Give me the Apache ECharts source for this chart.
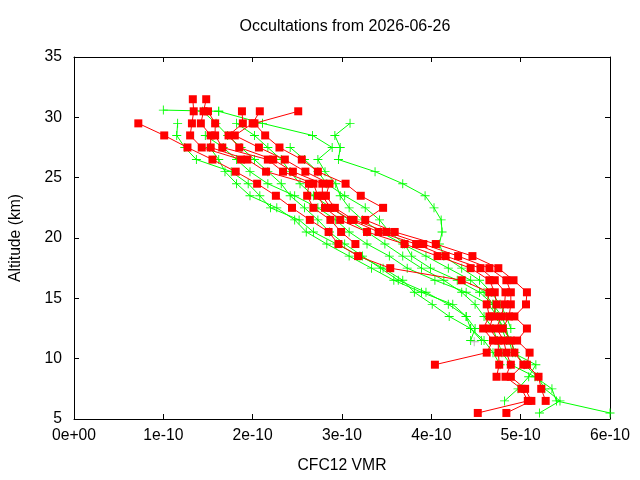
<!DOCTYPE html>
<html><head><meta charset="utf-8">
<script src="https://cdn.jsdelivr.net/npm/echarts@6/dist/echarts.min.js"></script>
<style>html,body{margin:0;padding:0;background:#fff}#c{width:640px;height:480px}</style>
</head><body><div id="c"></div>
<script>
// Tick labels
const xTickLabels = ['0e+00','1e-10','2e-10','3e-10','4e-10','5e-10','6e-10'];
const yTickLabels = ['5','10','15','20','25','30','35'];

// VMR values in units of 1e-10; each profile starts at its top altitude (km) and steps down 1 km
const redTops = [29.5, 31.5, 31.5, 30.5, 30.5, 30.5, 30.5];
const red1 = [0.72,1.01,1.27,1.55,1.81,2.05,2.26,2.44,2.64,2.85,2.96,3.18,3.54,4.34,4.65,4.62,4.65,4.58,4.69,4.62,4.04];
const red2 = [1.33,1.34,1.32,1.30,1.43,1.87];
const red3 = [1.48,1.45,1.42,1.53,1.53,1.94,2.15,2.63,2.61,2.68,2.87,2.99,3.15];
const red4 = [1.50,1.58,1.58,1.66,2.17,2.34,2.68,2.73,2.81,2.98,3.28,3.70,4.07,4.44,4.65,4.71,4.73,4.69,4.65,4.75,4.75,4.76,4.73];
const red5 = [1.88,1.89,1.73,1.85,2.23,2.45,2.78,2.78,2.87,3.10,3.41,3.83,4.16,4.55,4.71,4.83,4.82,4.78,4.73,4.81,4.84,4.89,4.83,5.01,5.08,4.52];
const red6 = [2.08,2.00,1.80,2.07,2.36,2.59,2.86,2.82,2.92,3.13,3.50,3.91,4.30,4.65,4.84,4.89,4.89,4.87,4.80,4.89,4.93,5.03,4.89,5.05,5.12,4.84];
const red7 = [2.51,2.02,2.14,2.30,2.55,2.73,3.04,3.21,3.46,3.26,3.59,4.05,4.46,4.75,4.92,5.07,5.06,4.93,5.07,4.96,5.10,5.07,5.20,5.23,5.28];

const greenTops = [29.5, 30.5, 29.5, 30.5, 29.5, 27.5, 27.5, 28.5];
const green1 = [1.16,1.15,1.24,1.37,1.76,1.95,2.08,2.20,2.52,2.68,2.94,3.20,3.46,3.68,3.81,4.01,4.20,4.44,4.59,4.69,4.77];
const green2 = [1.62,2.11,2.67,2.89,2.73,2.81,2.93,2.98,3.08,3.23,3.43,3.68,3.94,4.19,4.44,4.59,4.69,4.74,4.79,4.84];
const green2Head = [[1.00,30.6],[1.62,30.5]];
const green3 = [3.09,2.92,2.98,2.96,3.37,3.68,3.93,4.03,4.11,4.12,4.09,4.14,4.34,4.54,4.67,4.77,4.84,4.89];
const green4 = [1.44,1.59,1.72,1.87,2.02,2.17,2.32,2.42,2.58,2.73,2.86,3.03,3.23,3.43,3.63,3.94,4.19,4.39,4.49,4.44];
const green5 = [1.82,2.02,2.17,2.32,2.42,2.53,2.68,2.88,3.08,3.28,3.48,3.68,3.89,4.14,4.34,4.49,4.59,4.69,4.74,4.79,4.89,5.16,5.35,5.40,6.00];
const green6 = [2.42,2.58,2.73,2.83,3.03,3.26,3.42,3.53,3.70,3.78,3.99,4.29,4.54,4.69,4.79,4.84,4.87,4.91,5.17,5.09,4.97,4.82];
const green7 = [1.52,1.62,1.69,1.82,1.97,2.27,2.47,2.60,2.83,3.08,3.33,3.58,3.89,4.24,4.39,4.44,4.56];
const green8 = [1.47,1.67,1.82,1.97,2.17,2.47,2.73,2.93,3.08,3.28,3.53,3.73,4.04,4.39,4.64,4.74,4.81,4.89,4.94,5.04,5.19,5.27,5.44,5.21];

const grayPoints = [[4.48,11.4]];

const redProfiles = [red1,red2,red3,red4,red5,red6,red7];
const greenProfiles = [green1,green2,green3,green4,green5,green6,green7,green8];

function toPairs(top, vals){ return vals.map((v,i)=>[v, top - i]); }

const plusPath = 'path://M4.5,0h1v4.5h4.5v1h-4.5v4.5h-1v-4.5h-4.5v-1h4.5z';
const RED = '#ff0000', GREEN = '#00ff00';
const font = 'Liberation Sans, Arial, sans-serif';
const FS = 15.7;

const series = [];
greenProfiles.forEach((p,i)=>{
  series.push({type:'line', data: toPairs(greenTops[i], p), symbol: plusPath, symbolSize: 9,
    lineStyle:{color:GREEN, width:1}, itemStyle:{color:GREEN}, showSymbol:true, z:2, animation:false, silent:true});
});
series.push({type:'line', data: green2Head, symbol: plusPath, symbolSize: 9,
  lineStyle:{color:GREEN, width:1}, itemStyle:{color:GREEN}, z:2, animation:false, silent:true});
redProfiles.forEach((p,i)=>{
  series.push({type:'line', data: toPairs(redTops[i], p), symbol:'rect', symbolSize: 8,
    lineStyle:{color:RED, width:1}, itemStyle:{color:RED}, showSymbol:true, z:3, animation:false, silent:true});
});
series.push({type:'scatter', data: grayPoints, symbol: plusPath, symbolSize: 9, itemStyle:{color:'#a0a0a0'}, z:4, animation:false, silent:true});

const axisCommon = {
  axisLine:{show:true, onZero:false, lineStyle:{color:'#000', width:1}},
  axisTick:{show:true, inside:true, length:5, lineStyle:{color:'#000', width:1}},
  splitLine:{show:false}
};

const chart = echarts.init(document.getElementById('c'), null, {renderer:'canvas'});
chart.setOption({
  animation:false,
  backgroundColor:'#fff',
  title:{text:'Occultations from 2026-06-26', left:340, top:14, textAlign:'center',
    textStyle:{fontFamily:font, fontSize:16, fontWeight:'normal', color:'#000'}},
  grid:{left:74, right:30, top:57, bottom:61, containLabel:false},
  xAxis:[
    Object.assign({type:'value', min:0, max:6, interval:1, position:'bottom',
      axisLabel:{formatter:(v)=>xTickLabels[Math.round(v)], color:'#000', fontFamily:font, fontSize:FS, margin:9},
      name:'CFC12 VMR', nameLocation:'middle', nameGap:39,
      nameTextStyle:{fontFamily:font, fontSize:FS, color:'#000'}}, axisCommon),
    Object.assign({type:'value', min:0, max:6, interval:1, position:'top', axisLabel:{show:false}}, axisCommon)
  ],
  yAxis:[
    Object.assign({type:'value', min:5, max:35, interval:5, position:'left',
      axisLabel:{formatter:(v)=>yTickLabels[Math.round((v-5)/5)], color:'#000', fontFamily:font, fontSize:FS, margin:12},
      name:'Altitude (km)', nameLocation:'middle', nameGap:50, nameRotate:90,
      nameTextStyle:{fontFamily:font, fontSize:FS, color:'#000'}}, axisCommon),
    Object.assign({type:'value', min:5, max:35, interval:5, position:'right', axisLabel:{show:false}}, axisCommon)
  ],
  series: series
});
</script></body></html>
